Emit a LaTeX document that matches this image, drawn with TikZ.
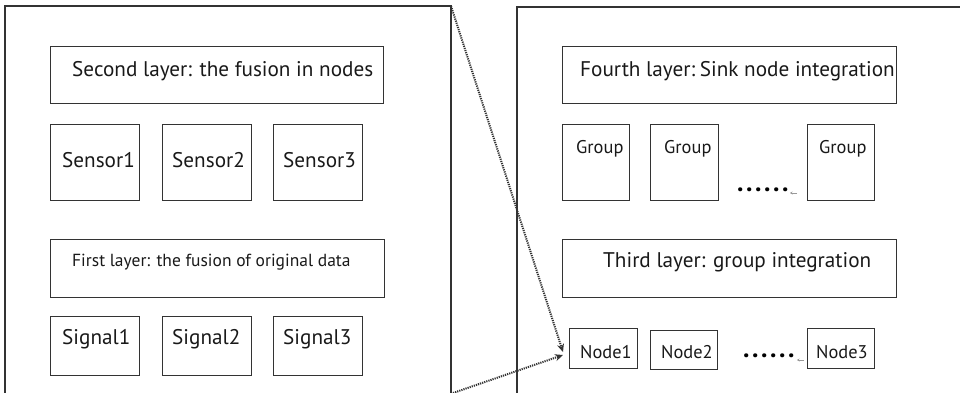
\documentclass[tikz,border=0pt]{standalone}
\usepackage{fontspec}
\setmainfont{PT Sans}
\usetikzlibrary{arrows.meta}
\newcommand\dotrow{\textbf{.\kern2.6pt.\kern2.6pt.\kern2.6pt.\kern2.6pt.\kern2.6pt.}}
\begin{document}
\begin{tikzpicture}[x=1pt,y=-1pt,
  frame/.style={draw=black!80,line width=1.1pt},
  bx/.style={draw=black!80,line width=1pt},
  lbl/.style={anchor=base west,inner sep=0pt,text=black!90},
  big/.style={lbl,font=\fontsize{21.2}{22}\selectfont},
  mid/.style={lbl,font=\fontsize{17.5}{19}\selectfont},
  sml/.style={lbl,font=\fontsize{18.4}{19}\selectfont},
  dots/.style={lbl,text=black,font=\fontsize{26}{26}\selectfont},
  link/.style={draw=black!80,line width=2pt,dash pattern=on 1.2pt off 1pt,-{Stealth[length=8pt,width=7pt]}},
  tick/.style={draw=black!40,line width=0.6pt,-{Stealth[length=2.5pt,width=3pt]}}]
\clip (0,0) rectangle (960,392);
% big frames
\draw[frame] (5,6) rectangle (451,420);
\coordinate (lcorner) at (451,6);
\draw[frame] (517,7) rectangle (980,420);
% left panel
\node[bx,minimum width=333pt,minimum height=57pt,anchor=north west] (L2) at (50,46) {};
\node[big] (t2) at (72,76) {Second layer: the fusion in nodes};
\node[bx,minimum width=89pt,minimum height=76pt,anchor=north west] (S1) at (50,124) {};
\node[bx,minimum width=89pt,minimum height=76pt,anchor=north west] (S2) at (162,124) {};
\node[bx,minimum width=89pt,minimum height=76pt,anchor=north west] (S3) at (273,124) {};
\node[big] (ts1) at (62,167) {Sensor1};
\node[big] (ts2) at (172,167) {Sensor2};
\node[big] (ts3) at (283,167) {Sensor3};
\node[bx,minimum width=334pt,minimum height=58pt,anchor=north west] (L1) at (50,239) {};
\node[mid] (t1) at (72,266) {First layer: the fusion of original data};
\node[bx,minimum width=89pt,minimum height=59pt,anchor=north west] (G1s) at (50,316) {};
\node[bx,minimum width=89pt,minimum height=59pt,anchor=north west] (G2s) at (162,316) {};
\node[bx,minimum width=89pt,minimum height=59pt,anchor=north west] (G3s) at (273,316) {};
\node[big] (tg1) at (62,344) {Signal1};
\node[big] (tg2) at (172,344) {Signal2};
\node[big] (tg3) at (283,344) {Signal3};
% right panel
\node[bx,minimum width=334pt,minimum height=57pt,anchor=north west] (L4) at (562,46) {};
\node[big] (t4) at (580,76) {Fourth layer:\kern-1pt\ Sink node integration};
\node[bx,minimum width=67pt,minimum height=76pt,anchor=north west] (Gr1) at (562,124) {};
\node[bx,minimum width=68pt,minimum height=76pt,anchor=north west] (Gr2) at (650,124) {};
\node[bx,minimum width=67pt,minimum height=76pt,anchor=north west] (Gr3) at (807,124) {};
\node[sml] (tgr1) at (576,153) {Group};
\node[sml] (tgr2) at (664,153) {Group};
\node[sml] (tgr3) at (819,153) {Group};
\node[dots] (d1) at (737,191) {\dotrow};
\draw[tick] (797,193) -- (790,193);
\node[bx,minimum width=334pt,minimum height=58pt,anchor=north west] (L3) at (562,239) {};
\node[big] (t3) at (603,267) {Third layer: group integration};
\node[bx,minimum width=68pt,minimum height=40pt,anchor=north west] (N1) at (569,328) {};
\node[bx,minimum width=67pt,minimum height=39pt,anchor=north west] (N2) at (650,330) {};
\node[bx,minimum width=67pt,minimum height=40pt,anchor=north west] (N3) at (807,328) {};
\node[sml] (tn1) at (580,358) {Node1};
\node[sml] (tn2) at (661,358) {Node2};
\node[sml] (tn3) at (816,358) {Node3};
\node[dots] (d2) at (743,357) {\dotrow};
\draw[tick] (804,360) -- (797,360);
% connectors
\coordinate (lbottom) at (453,393);
\coordinate (hit1) at (563,352);
\coordinate (hit2) at (563,355);
\draw[link] (lcorner) -- (hit1);
\draw[link] (lbottom) -- (hit2);
\end{tikzpicture}
\end{document}
